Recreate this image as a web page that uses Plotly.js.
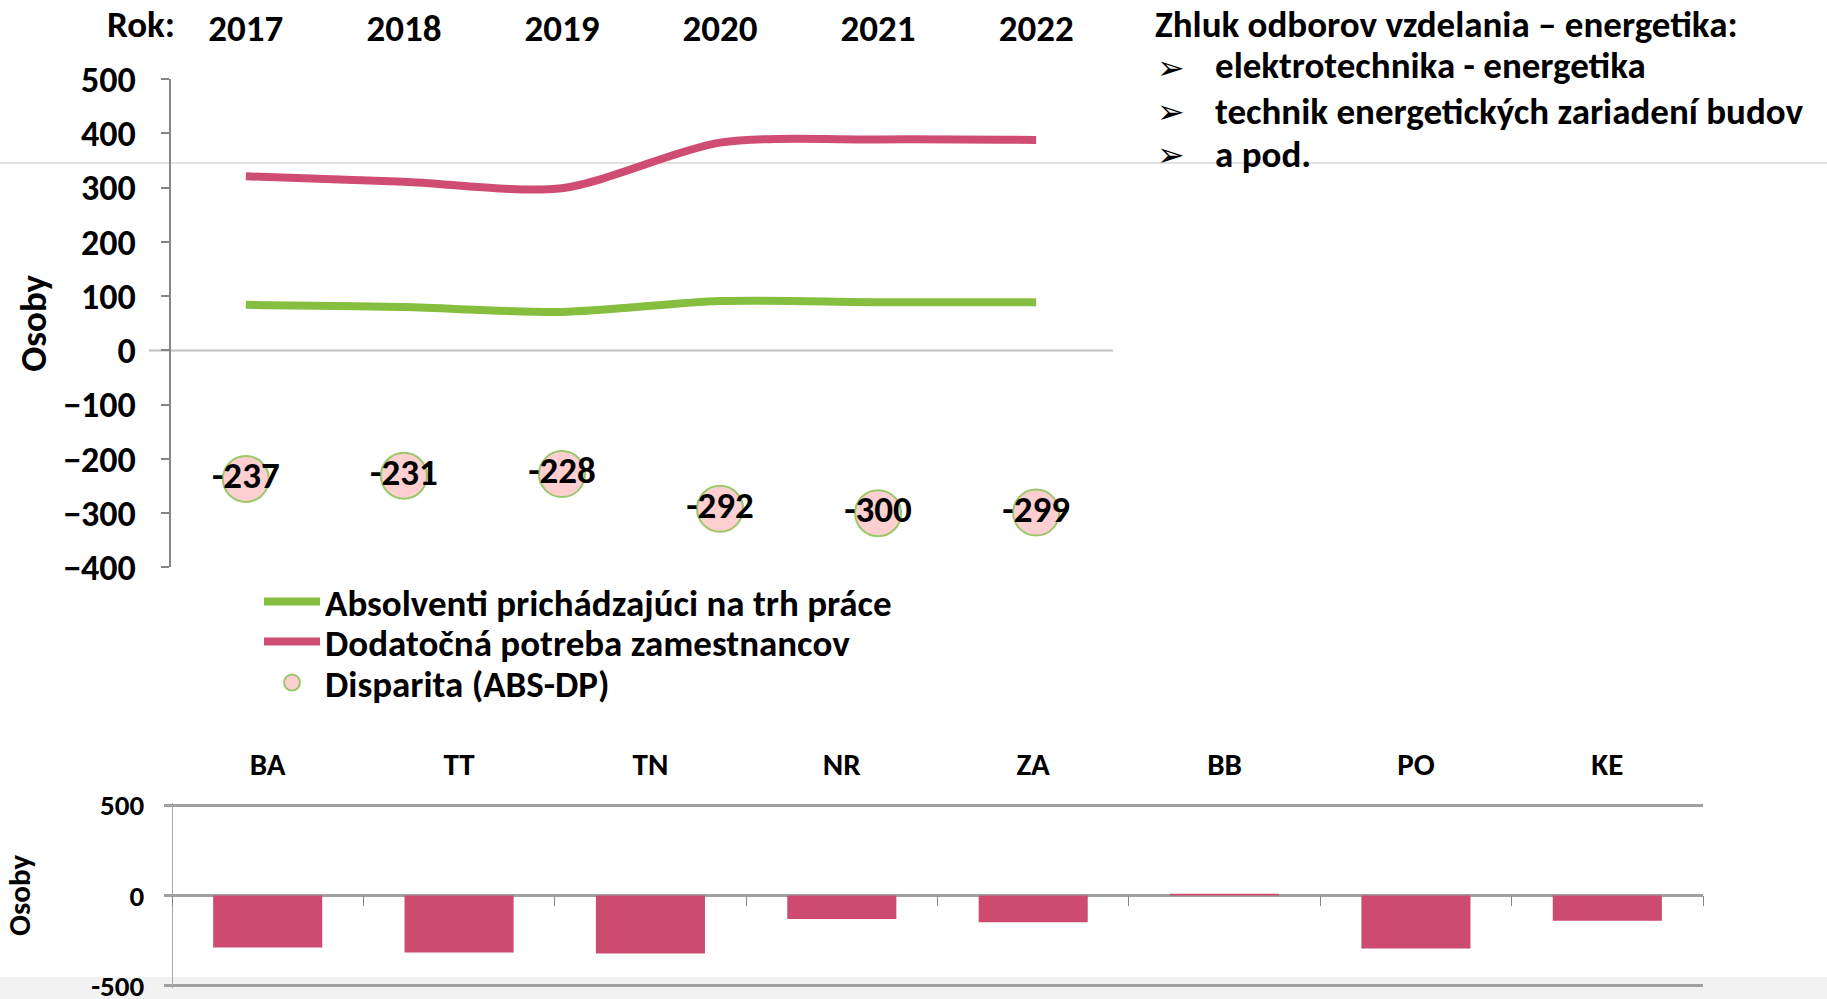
<!DOCTYPE html>
<html>
<head>
<meta charset="utf-8">
<script src="https://cdn.plot.ly/plotly-3.0.1.min.js"></script>
<style>
  html, body { margin: 0; padding: 0; background: #fff; }
  #chart { width: 1827px; height: 999px; }
</style>
</head>
<body>
<div id="chart"></div>
<script>
// roky a hodnoty (horny graf)
const years = ['2017', '2018', '2019', '2020', '2021', '2022'];
const absolventi = [84, 80, 71, 91, 89, 89];
const potreba = [321, 311, 299, 383, 389, 388];
const disparita = [-237, -231, -228, -292, -300, -299];

// kraje (dolny graf)
const regions = ['BA', 'TT', 'TN', 'NR', 'ZA', 'BB', 'PO', 'KE'];
const regionValues = [-287, -315, -320, -130, -148, 9, -293, -139];

const FONT = 'Carlito, Calibri, Lato, sans-serif';
const W = 1827, H = 999;
const px = x => x / W;          // x pixel -> paper
const py = y => 1 - y / H;      // y pixel -> paper

const pink = '#cf4d72';
const green = '#86bf40';
const bold = (size) => ({ family: FONT, size: size, color: '#000', weight: 'bold' });

const traces = [
    {
        x: years, y: absolventi,
        name: 'Absolventi prichádzajúci na trh práce',
        mode: 'lines',
        line: { color: green, width: 8, shape: 'spline', smoothing: 0.8 },
        legend: 'legend',
        xaxis: 'x', yaxis: 'y'
    },
    {
        x: years, y: potreba,
        name: 'Dodatočná potreba zamestnancov',
        mode: 'lines',
        line: { color: pink, width: 8, shape: 'spline', smoothing: 0.8 },
        legend: 'legend2',
        xaxis: 'x', yaxis: 'y'
    },
    {
        x: years, y: disparita,
        name: 'Disparita (ABS-DP)',
        mode: 'markers+text',
        text: disparita.map(String),
        textposition: 'middle center',
        textfont: bold(37),
        marker: { size: 46, color: '#fdcfd0', line: { color: '#9bc86a', width: 2 } },
        legend: 'legend3',
        xaxis: 'x', yaxis: 'y'
    },
    {
        x: regions, y: regionValues,
        type: 'bar',
        marker: { color: '#cc4b6e', line: { width: 0 } },
        showlegend: false,
        xaxis: 'x2', yaxis: 'y2'
    },
    {
        // len kvoli popisom krajov hore
        x: regions, y: regionValues.map(() => null),
        mode: 'markers', showlegend: false, hoverinfo: 'skip',
        xaxis: 'x3', yaxis: 'y2'
    }
];

const legendBase = {
    x: px(259), xanchor: 'left', yanchor: 'middle',
    font: bold(37),
    bgcolor: 'rgba(0,0,0,0)',
    itemwidth: 56
};

const layout = {
    width: W, height: H,
    margin: { l: 0, r: 0, t: 0, b: 0 },
    paper_bgcolor: '#fff',
    plot_bgcolor: 'rgba(0,0,0,0)',
    font: { family: FONT, color: '#000' },
    showlegend: true,
    legend: { ...legendBase, y: py(602) },
    legend2: { ...legendBase, y: py(642) },
    legend3: { ...legendBase, y: py(683) },
    xaxis: {
        domain: [px(170), px(1112)],
        type: 'category',
        anchor: 'free', position: py(48), side: 'top',
        showline: false, showgrid: false, zeroline: false, ticks: '',
        tickfont: bold(37)
    },
    yaxis: {
        domain: [py(567.4), py(79.2)],
        range: [-400, 500], dtick: 100,
        anchor: 'free', position: px(170),
        showgrid: false, zeroline: false,
        showline: true, linecolor: '#868686', linewidth: 2,
        ticks: 'outside', ticklen: 8, tickcolor: '#868686', tickwidth: 2,
        ticklabelstandoff: 18,
        tickfont: bold(36),
        title: { text: 'Osoby', font: bold(37), standoff: 4 }
    },
    xaxis2: {
        domain: [px(172), px(1703)],
        type: 'category',
        anchor: 'free', position: py(895),
        showline: false, showgrid: false, zeroline: false,
        ticks: 'outside', tickson: 'boundaries', ticklen: 10, tickcolor: '#868686', tickwidth: 1,
        showticklabels: false
    },
    xaxis3: {
        domain: [px(172), px(1703)],
        type: 'category', overlaying: 'x2', matches: 'x2',
        anchor: 'free', position: py(781), side: 'top',
        showline: false, showgrid: false, zeroline: false, ticks: '',
        tickfont: bold(31)
    },
    yaxis2: {
        domain: [py(987.8), py(803.2)],
        range: [-510, 510], tickvals: [-500, 0, 500], ticktext: ['-500', '0', '500'],
        anchor: 'free', position: px(172),
        showgrid: true, gridcolor: '#a0a0a0', gridwidth: 3,
        zeroline: true, zerolinecolor: '#a0a0a0', zerolinewidth: 3,
        showline: true, linecolor: '#a6a6a6', linewidth: 1,
        ticks: 'outside', ticklen: 8, tickcolor: '#a0a0a0', tickwidth: 3,
        ticklabelstandoff: 14,
        ticklabeloverflow: 'allow',
        tickfont: bold(29),
        title: { text: 'Osoby', font: bold(31), standoff: 58 }
    },
    bargap: 0.43,
    shapes: [
        // tenka ciara cez celu stranu
        { type: 'line', xref: 'paper', yref: 'paper', x0: 0, x1: 1, y0: py(163), y1: py(163),
          line: { color: '#d9d9d9', width: 1.5 }, layer: 'below' },
        // nulova os horneho grafu
        { type: 'line', xref: 'paper', yref: 'y', x0: px(149), x1: px(1113), y0: 0, y1: 0,
          line: { color: '#c0c0c0', width: 2 }, layer: 'below' },
        // sivy pas dole
        { type: 'rect', xref: 'paper', yref: 'paper', x0: 0, x1: 1, y0: 0, y1: py(977),
          fillcolor: '#f2f2f2', line: { width: 0 }, layer: 'below' }
    ],
    annotations: [
        { xref: 'paper', yref: 'paper', x: px(177), y: py(24), xanchor: 'right', yanchor: 'middle',
          text: 'Rok:', showarrow: false, font: bold(37) },
        { xref: 'paper', yref: 'paper', x: px(1153), y: py(24), xanchor: 'left', yanchor: 'middle',
          text: 'Zhluk odborov vzdelania – energetika:', showarrow: false, font: bold(37) },
        { xref: 'paper', yref: 'paper', x: px(1155), y: py(67), xanchor: 'left', yanchor: 'middle',
          text: '➢', showarrow: false, font: { family: 'DejaVu Sans', size: 33, color: '#000' } },
        { xref: 'paper', yref: 'paper', x: px(1213), y: py(66), xanchor: 'left', yanchor: 'middle',
          text: 'elektrotechnika - energetika', showarrow: false, font: bold(37) },
        { xref: 'paper', yref: 'paper', x: px(1155), y: py(111), xanchor: 'left', yanchor: 'middle',
          text: '➢', showarrow: false, font: { family: 'DejaVu Sans', size: 33, color: '#000' } },
        { xref: 'paper', yref: 'paper', x: px(1213), y: py(111), xanchor: 'left', yanchor: 'middle',
          text: 'technik energetických zariadení budov', showarrow: false, font: bold(37) },
        { xref: 'paper', yref: 'paper', x: px(1155), y: py(155), xanchor: 'left', yanchor: 'middle',
          text: '➢', showarrow: false, font: { family: 'DejaVu Sans', size: 33, color: '#000' } },
        { xref: 'paper', yref: 'paper', x: px(1213), y: py(155), xanchor: 'left', yanchor: 'middle',
          text: 'a pod.', showarrow: false, font: bold(37) }
    ]
};

Plotly.newPlot('chart', traces, layout, { staticPlot: true });
</script>
</body>
</html>
